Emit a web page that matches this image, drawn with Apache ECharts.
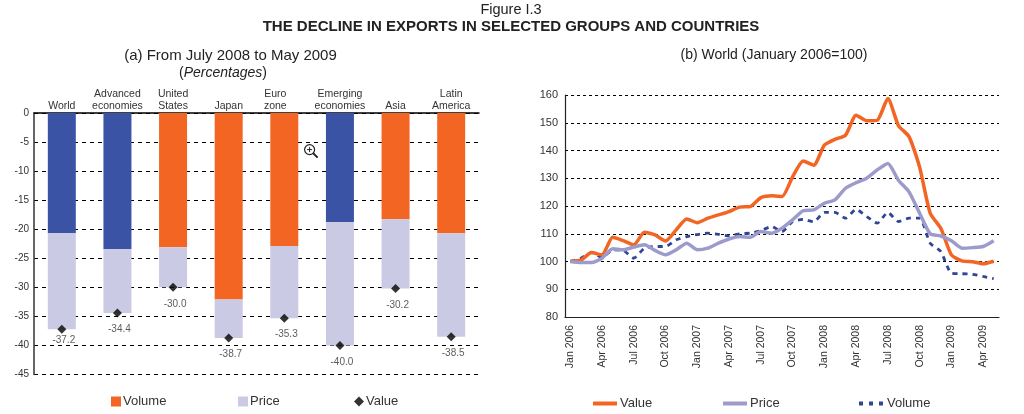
<!DOCTYPE html>
<html>
<head>
<meta charset="utf-8">
<style>html,body{margin:0;padding:0;background:#fff}#c{width:1024px;height:414px}</style>
<script src="https://cdn.jsdelivr.net/npm/echarts@6/dist/echarts.min.js"></script>
</head>
<body>
<div id="c"></div>
<script>
var groups = ['World','Advanced\neconomies','United\nStates','Japan','{euro|Euro}\n{euro|zone}','Emerging\neconomies','Asia','Latin\nAmerica'];
var barVolume = [-20.7,-23.4,-23.1,-32.1,-22.9,-18.8,-18.3,-20.7];
var barPrice = [-16.5,-11.0,-6.9,-6.6,-12.4,-21.2,-11.9,-17.8];
var barValue = [-37.2,-34.4,-30.0,-38.7,-35.3,-40.0,-30.2,-38.5];
var aggregateGroup = [true,true,false,false,false,true,false,false];

var months = ['Jan 2006','Feb 2006','Mar 2006','Apr 2006','May 2006','Jun 2006','Jul 2006','Aug 2006','Sep 2006','Oct 2006','Nov 2006','Dec 2006',
 'Jan 2007','Feb 2007','Mar 2007','Apr 2007','May 2007','Jun 2007','Jul 2007','Aug 2007','Sep 2007','Oct 2007','Nov 2007','Dec 2007',
 'Jan 2008','Feb 2008','Mar 2008','Apr 2008','May 2008','Jun 2008','Jul 2008','Aug 2008','Sep 2008','Oct 2008','Nov 2008','Dec 2008',
 'Jan 2009','Feb 2009','Mar 2009','Apr 2009','May 2009'];
var worldValue = [100.1,100.5,103.2,102.4,108.7,107.5,106,110.5,109.6,107.4,111.4,115.3,114,115.6,116.8,118,119.6,119.8,123,123.7,123.4,130.5,136.2,134.7,141.9,144,145.5,152.7,150.7,150.9,158.7,149,145,134,117.4,112,102.4,100.2,99.9,99.2,100.1];
var worldPrice = [100,99.6,99.6,101.2,104.6,104.2,105.2,106,104,102.4,104.2,106.6,104.2,104.8,106.6,108.1,109,108.7,110.8,110.2,112,115,118.3,118.6,121,122.2,126.4,128.4,130,133,135.3,129.3,125.1,117.4,110,109.2,107.5,104.8,105,105.4,107.5];
var worldVolume = [100,101.2,103.2,101.4,104.2,104,101.2,104.8,105.4,105.4,107.8,109,109.7,110.2,109.8,109.2,110,110.2,111.1,112.6,110.8,114.4,115.2,114.3,117.7,117.7,115.6,118.8,116.2,113.8,117.7,114.4,115.6,115.6,106.6,103.6,95.8,95.6,95.4,94.6,93.8];

var ORANGE='#F26522', BLUE='#3A53A4', LAV='#CBCAE4', LAVLINE='#9C9BCC', NAVY='#2F4596', INK='#222';
var FONT='"Liberation Sans", Arial, sans-serif';
var DASH_ICON='path://M0 0h4v4h-4zM10 0h4v4h-4zM20 0h4v4h-4z';

function legend(name, left, top, w, h, icon, pad){
  return {data:[{name:name}],left:left,top:top,itemWidth:w,itemHeight:h,itemGap:0,padding:0,icon:icon,
    formatter:function(n){return n.trim();},selectedMode:false,
    textStyle:{fontFamily:FONT,fontSize:13,color:'#333',padding:[0,0,0,pad]}};
}

var option={
  animation:false,
  backgroundColor:'#fff',
  textStyle:{fontFamily:FONT},
  title:[
    {text:'Figure I.3',left:506,top:-3,textAlign:'center',textStyle:{fontFamily:FONT,fontSize:14.5,fontWeight:'normal',color:INK}},
    {text:'THE DECLINE IN EXPORTS IN SELECTED GROUPS AND COUNTRIES',left:506,top:14,textAlign:'center',textStyle:{fontFamily:FONT,fontSize:15,fontWeight:'bold',color:INK}},
    {text:'(a) From July 2008 to May 2009',left:225.5,top:43,textAlign:'center',textStyle:{fontFamily:FONT,fontSize:15,fontWeight:'normal',color:INK}},
    {text:'({i|Percentages})',left:218,top:61,textAlign:'center',textStyle:{fontFamily:FONT,fontSize:14,fontWeight:'normal',color:INK,rich:{i:{fontFamily:FONT,fontSize:14,fontStyle:'italic',color:INK}}}},
    {text:'(b) World (January 2006=100)',left:769,top:43,textAlign:'center',textStyle:{fontFamily:FONT,fontSize:14,fontWeight:'normal',color:INK}}
  ],
  legend:[
    legend('Volume',111,395,10,10,'rect',-3),
    legend('Price',238,395,10,10,'rect',-3),
    legend('Value',354,395,10,10,'diamond',-3),
    legend('Value ',593,397,24,4,'rect',-2),
    legend('Price ',723,397,24,4,'rect',-2),
    legend('Volume ',859,397,24,4,DASH_ICON,-1)
  ],
  grid:[
    {left:34,top:113,width:445,height:261.5},
    {left:565,top:95,width:434,height:222}
  ],
  xAxis:[
    {type:'category',gridIndex:0,position:'top',data:groups,
     axisLine:{lineStyle:{color:'#000',width:1.5}},axisTick:{show:false},
     axisLabel:{interval:0,margin:1,fontSize:10.5,lineHeight:12,color:'#333',fontFamily:FONT,
       rich:{euro:{fontSize:10.5,lineHeight:12,color:'#333',fontFamily:FONT,padding:[0,18,0,0]}}}},
    {type:'category',gridIndex:1,data:months,boundaryGap:true,
     axisLine:{lineStyle:{color:'#222',width:1.2}},
     axisTick:{interval:2,length:4,lineStyle:{color:'#222'}},
     axisLabel:{interval:2,rotate:90,margin:8,fontSize:10.5,color:'#333',fontFamily:FONT,padding:[0,0,10,0]}}
  ],
  yAxis:[
    {type:'value',gridIndex:0,min:-45,max:0,interval:5,
     axisLine:{show:true,lineStyle:{color:'#333',width:1.5}},axisTick:{show:false},
     axisLabel:{margin:5,fontSize:10,color:'#333',fontFamily:FONT},
     splitLine:{show:true,lineStyle:{color:'#000',type:[4,4],width:1}}},
    {type:'value',gridIndex:1,min:80,max:160,interval:10,
     axisLine:{show:true,lineStyle:{color:'#222',width:1.2}},axisTick:{show:false},
     axisLabel:{margin:7,fontSize:11,color:'#333',fontFamily:FONT},
     splitLine:{show:true,lineStyle:{color:'#000',type:[3,3],width:1}}}
  ],
  series:[
    {name:'Volume',type:'bar',stack:'a',xAxisIndex:0,yAxisIndex:0,barWidth:28,itemStyle:{color:ORANGE},
     data:barVolume.map(function(v,i){return aggregateGroup[i]?{value:v,itemStyle:{color:BLUE}}:v;})},
    {name:'Price',type:'bar',stack:'a',xAxisIndex:0,yAxisIndex:0,barWidth:28,itemStyle:{color:LAV},data:barPrice},
    {name:'Value',type:'scatter',xAxisIndex:0,yAxisIndex:0,symbol:'diamond',symbolSize:9,z:5,itemStyle:{color:'#000'},
     label:{show:true,position:'bottom',distance:7,offset:[2,0],fontSize:10,color:'#333',fontFamily:FONT,
       formatter:function(p){return p.value.toFixed(1);}},
     data:barValue.map(function(v,i){return i===0?{value:v,label:{distance:2}}:v;})},
    {name:'Value ',type:'line',xAxisIndex:1,yAxisIndex:1,symbol:'none',smooth:0.2,z:4,data:worldValue,
     itemStyle:{color:ORANGE},lineStyle:{color:ORANGE,width:3.5}},
    {name:'Price ',type:'line',xAxisIndex:1,yAxisIndex:1,symbol:'none',smooth:0.2,z:5,data:worldPrice,
     itemStyle:{color:LAVLINE},lineStyle:{color:LAVLINE,width:3.5}},
    {name:'Volume ',type:'line',xAxisIndex:1,yAxisIndex:1,symbol:'none',smooth:0.2,z:3,data:worldVolume,
     itemStyle:{color:NAVY},lineStyle:{color:NAVY,width:2.8,type:[5,5]}}
  ],
  graphic:[
    {type:'group',left:304,top:144,children:[
      {type:'circle',shape:{cx:6,cy:6,r:5},style:{fill:'#fff',stroke:'#222',lineWidth:1.2}},
      {type:'line',shape:{x1:9.5,y1:9.5,x2:14,y2:14},style:{stroke:'#222',lineWidth:2}},
      {type:'line',shape:{x1:3.5,y1:6,x2:8.5,y2:6},style:{stroke:'#222',lineWidth:1}},
      {type:'line',shape:{x1:6,y1:3.5,x2:6,y2:8.5},style:{stroke:'#222',lineWidth:1}}
    ]}
  ]
};
var chart=echarts.init(document.getElementById('c'),null,{renderer:'canvas'});
chart.setOption(option);
</script>
</body>
</html>
